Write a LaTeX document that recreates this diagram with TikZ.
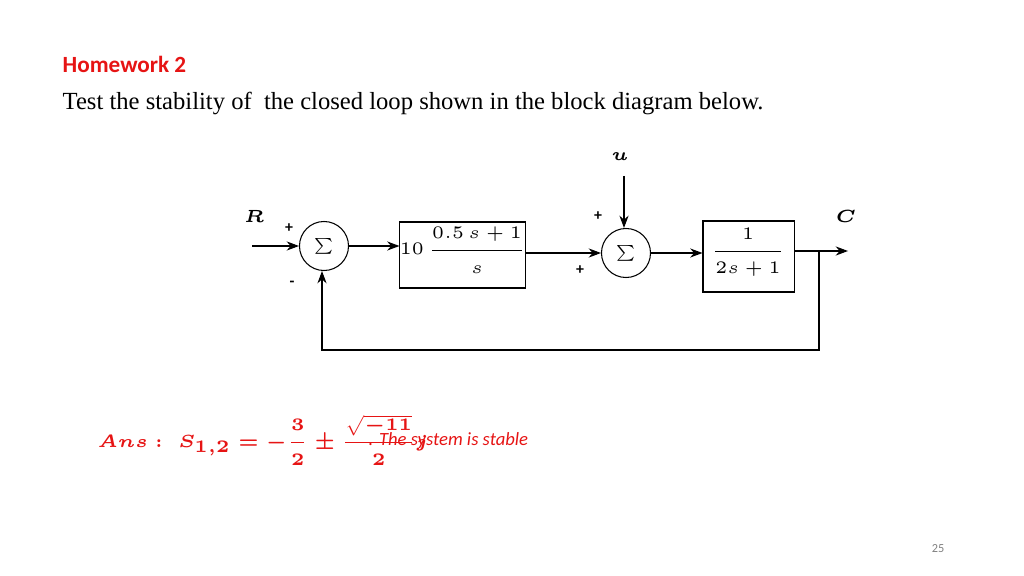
\documentclass[tikz,border=0pt]{standalone}
\usepackage{amsmath,bm}
\usepackage{fontspec}
\setmainfont{Liberation Serif}
\newfontfamily\carl{Carlito}
\usetikzlibrary{arrows.meta}
\definecolor{hwred}{RGB}{230,20,20}
\begin{document}
\begin{tikzpicture}[x=0.01cm,y=-0.01cm,
  blk/.style={draw,line width=0.3pt,inner sep=0pt},
  sumc/.style={draw,circle,minimum size=0.49cm,inner sep=0pt,line width=0.3pt,font=\fontsize{4.5}{5}\selectfont},
  wire/.style={line width=0.3pt},
  arr/.style={wire,-{Stealth[length=3.5pt,width=2.6pt]}},
  sg/.style={font=\carl\fontsize{4.5}{5}\selectfont\bfseries},
  mlab/.style={font=\fontsize{4.6}{5}\selectfont}]
\useasboundingbox (0,0) rectangle (1024,576);
\node[anchor=west,inner sep=0pt,text=hwred,font=\carl\fontsize{6.6}{7}\selectfont\bfseries] (hw) at (62,64) {Homework 2};
\node[anchor=west,inner sep=0pt,font=\fontsize{7}{8}\selectfont] (tx) at (62,103) {Test the stability of\ \ the closed loop shown in the block diagram below.};
\node[sumc] (s1) at (324,246) {$\sum$};
\node[sumc] (s2) at (626,253) {$\sum$};
\node[blk,minimum width=1.25cm,minimum height=0.66cm] (b1) at (462.5,255) {};
\node[mlab] (g1) at (463,250) {$10\ \dfrac{0.5\,s+1}{s}$};
\node[blk,minimum width=0.91cm,minimum height=0.71cm] (b2) at (748.5,256.5) {};
\node[mlab] (g2) at (748,252) {$\dfrac{1}{2s+1}$};
\coordinate (rin) at (252,246);
\coordinate (uin) at (624,176);
\coordinate (cout) at (848,251);
\coordinate (tap) at (819,251);
\coordinate (fb1) at (819,350);
\coordinate (fb2) at (322,350);
\draw[arr] (rin) -- (s1.west);
\draw[arr] (s1.east) -- (b1.west |- s1.east);
\draw[arr] (b1.east |- s2.west) -- (s2.west);
\draw[arr] (uin) -- (uin |- s2.north);
\draw[arr] (s2.east) -- (b2.west |- s2.east);
\draw[arr] (b2.east |- cout) -- (cout);
\draw[arr] (tap) -- (fb1) -- (fb2) -- (fb2 |- s1.south);
\node[mlab] (lr) at (254,216) {$\bm{R}$};
\node[mlab] (lc) at (846,216) {$\bm{C}$};
\node[mlab] (lu) at (620,157) {$\bm{u}$};
\node[sg] (p1) at (289,228) {+};
\node[sg] (m1) at (292,284) {-};
\node[sg] (p2) at (598,216) {+};
\node[sg] (p3) at (580,270) {+};
\node[anchor=west,inner sep=0pt,text=hwred,font=\fontsize{4.8}{5}\selectfont] (ans) at (97,440) {$\bm{Ans:}\ \ \bm{S_{1,2}=-\dfrac{3}{2}\pm\dfrac{\sqrt{-11}}{2}j}$};
\node[anchor=west,inner sep=0pt,text=hwred,font=\carl\fontsize{5.3}{6}\selectfont\itshape] (st) at (368,441) {. The system is stable};
\node[text=gray,font=\carl\fontsize{3.5}{4}\selectfont] (pg) at (938,549) {25};
\end{tikzpicture}
\end{document}
